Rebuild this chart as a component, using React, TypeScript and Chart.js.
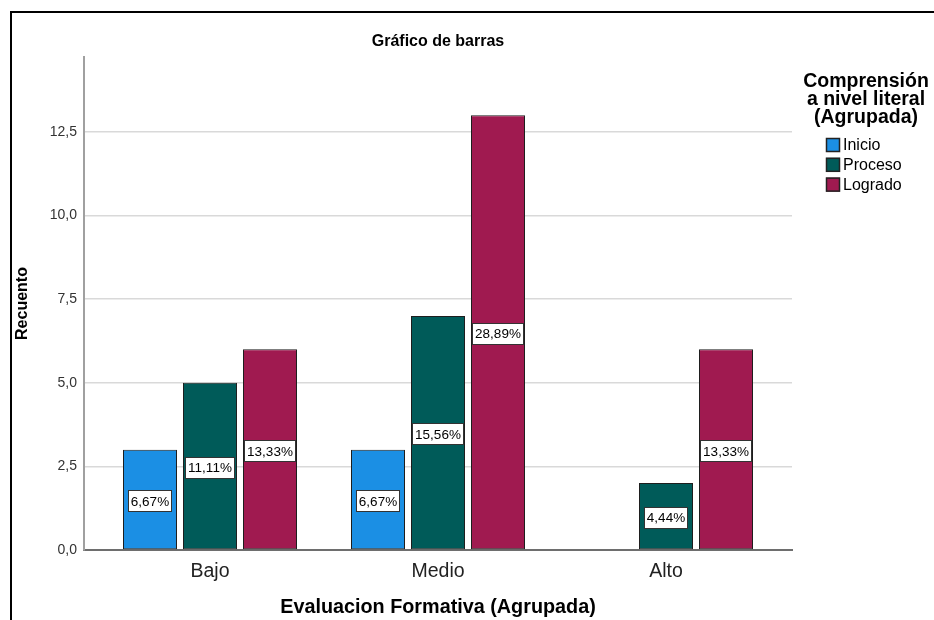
import React, { useEffect, useRef } from "react";
import { Chart, registerables } from "chart.js";

Chart.register(...registerables);

const CATEGORIES = ["Bajo", "Medio", "Alto"];
const SERIES_NAMES = ["Inicio", "Proceso", "Logrado"];
const INICIO = [3, 3, null];
const PROCESO = [5, 7, 2];
const LOGRADO = [6, 13, 6];
const INICIO_PCT = ["6,67%", "6,67%", ""];
const PROCESO_PCT = ["11,11%", "15,56%", "4,44%"];
const LOGRADO_PCT = ["13,33%", "28,89%", "13,33%"];
const Y_TICK_STEP = 2.5;
const TITLE = "Gráfico de barras";
const X_TITLE = "Evaluacion Formativa (Agrupada)";
const Y_TITLE = "Recuento";
const LEGEND_TITLE = ["Comprensión", "a nivel literal", "(Agrupada)"];

const COLORS = ["#1B8FE4", "#005B59", "#A01A50"];
const FONT = "'Liberation Sans', Arial, sans-serif";

export default function App() {
  const ref = useRef<HTMLCanvasElement | null>(null);

  useEffect(() => {
    const canvas = ref.current;
    if (!canvas) return;
    const values = [INICIO, PROCESO, LOGRADO];
    const pcts = [INICIO_PCT, PROCESO_PCT, LOGRADO_PCT];

    const framePlugin = {
      id: "frame",
      beforeDraw(chart: any) {
        const ctx = chart.ctx;
        ctx.save();
        ctx.fillStyle = "#ffffff";
        ctx.fillRect(0, 0, chart.width, chart.height);
        ctx.fillStyle = "#000000";
        ctx.fillRect(10, 11, chart.width - 10, 2);
        ctx.fillRect(10, 11, 2, chart.height - 11);
        ctx.restore();
      },
    };

    const labelPlugin = {
      id: "barLabels",
      afterDatasetsDraw(chart: any) {
        const ctx = chart.ctx;
        ctx.save();
        ctx.font = `13.5px ${FONT}`;
        ctx.textAlign = "center";
        ctx.textBaseline = "middle";
        chart.data.datasets.forEach((ds: any, di: number) => {
          const meta = chart.getDatasetMeta(di);
          meta.data.forEach((el: any, i: number) => {
            const v = values[di][i];
            if (v === null || v === undefined) return;
            const text = pcts[di][i];
            const cx = el.x;
            const cy = (el.y + el.base) / 2 + 1.5;
            const w = ctx.measureText(text).width + 6;
            const h = 22;
            ctx.fillStyle = "#ffffff";
            ctx.fillRect(Math.round(cx - w / 2), Math.round(cy - h / 2), Math.round(w), h);
            ctx.strokeStyle = "#333333";
            ctx.lineWidth = 1;
            ctx.strokeRect(Math.round(cx - w / 2) + 0.5, Math.round(cy - h / 2) + 0.5, Math.round(w) - 1, h - 1);
            ctx.fillStyle = "#000000";
            ctx.fillText(text, cx, cy + 1);
          });
        });
        ctx.restore();
      },
    };

    const legendPlugin = {
      id: "customLegend",
      afterDraw(chart: any) {
        const ctx = chart.ctx;
        ctx.save();
        ctx.fillStyle = "#000000";
        ctx.font = `bold 19.5px ${FONT}`;
        ctx.textAlign = "center";
        ctx.textBaseline = "alphabetic";
        LEGEND_TITLE.forEach((line, i) => {
          ctx.fillText(line, 866, 87 + i * 18.2);
        });
        ctx.font = `16px ${FONT}`;
        ctx.textAlign = "left";
        ctx.textBaseline = "middle";
        SERIES_NAMES.forEach((name, i) => {
          const cy = 145 + i * 19.8;
          ctx.fillStyle = COLORS[i];
          ctx.fillRect(826, cy - 7, 14, 14);
          ctx.strokeStyle = "#222222";
          ctx.lineWidth = 1.5;
          ctx.strokeRect(826.5, cy - 6.5, 13, 13);
          ctx.fillStyle = "#000000";
          ctx.fillText(name, 843, cy + 1);
        });
        ctx.restore();
      },
    };

    const chart = new Chart(canvas, {
      type: "bar",
      data: {
        datasets: SERIES_NAMES.map((name, di) => ({
          label: name,
          data: values[di].map((v, i) => ({ x: i, y: v })),
          backgroundColor: COLORS[di],
          borderColor: "#1e1e1e",
          borderWidth: 1,
          borderSkipped: false,
          categoryPercentage: 180 / 228,
          barPercentage: 0.9,
        })),
      },
      options: {
        animation: false,
        responsive: false,
        maintainAspectRatio: false,
        layout: { padding: { left: 12, right: 142, top: 24, bottom: 0 } },
        plugins: {
          legend: { display: false },
          tooltip: { enabled: false },
          title: {
            display: true,
            text: TITLE,
            fullSize: false,
            color: "#000000",
            font: { family: FONT, size: 16, weight: "bold" },
            padding: { top: 8.4, bottom: 5.4 },
          },
        },
        scales: {
          x: {
            type: "linear",
            offset: false,
            min: -0.5526,
            max: 2.5526,
            afterBuildTicks: (scale: any) => {
              scale.ticks = CATEGORIES.map((_, i) => ({ value: i }));
            },
            afterFit: (scale: any) => {
              scale.height = 70;
            },
            grid: { display: false, drawTicks: false, offset: false },
            border: { display: true, color: "#6e6e6e", width: 2 },
            ticks: {
              padding: 10,
              color: "#222222",
              font: { family: FONT, size: 19.5 },
              callback: (v: any) => CATEGORIES[v] ?? "",
            },
            title: {
              display: true,
              text: X_TITLE,
              color: "#000000",
              font: { family: FONT, size: 19.8, weight: "bold" },
              padding: { top: 0, bottom: 0.6 },
            },
          },
          y: {
            min: 0,
            max: 14.74,
            afterFit: (scale: any) => {
              scale.width = 72;
            },
            grid: { color: "#d9d9d9", lineWidth: 1.5, drawTicks: false },
            border: { display: true, color: "#a0a0a0", width: 2 },
            ticks: {
              stepSize: Y_TICK_STEP,
              includeBounds: false,
              padding: 7,
              color: "#333333",
              font: { family: FONT, size: 14 },
              callback: (v: any) => Number(v).toFixed(1).replace(".", ","),
            },
            title: {
              display: true,
              text: Y_TITLE,
              color: "#000000",
              font: { family: FONT, size: 16, weight: "bold" },
              padding: { top: 0.5, bottom: 0 },
            },
          },
        },
      },
      plugins: [framePlugin, labelPlugin, legendPlugin],
    } as any);

    return () => chart.destroy();
  }, []);

  return (
    <div style={{ position: "fixed", left: 0, top: 0, width: 934, height: 620, background: "#fff" }}>
      <canvas ref={ref} width={934} height={620} style={{ display: "block" }} />
    </div>
  );
}
